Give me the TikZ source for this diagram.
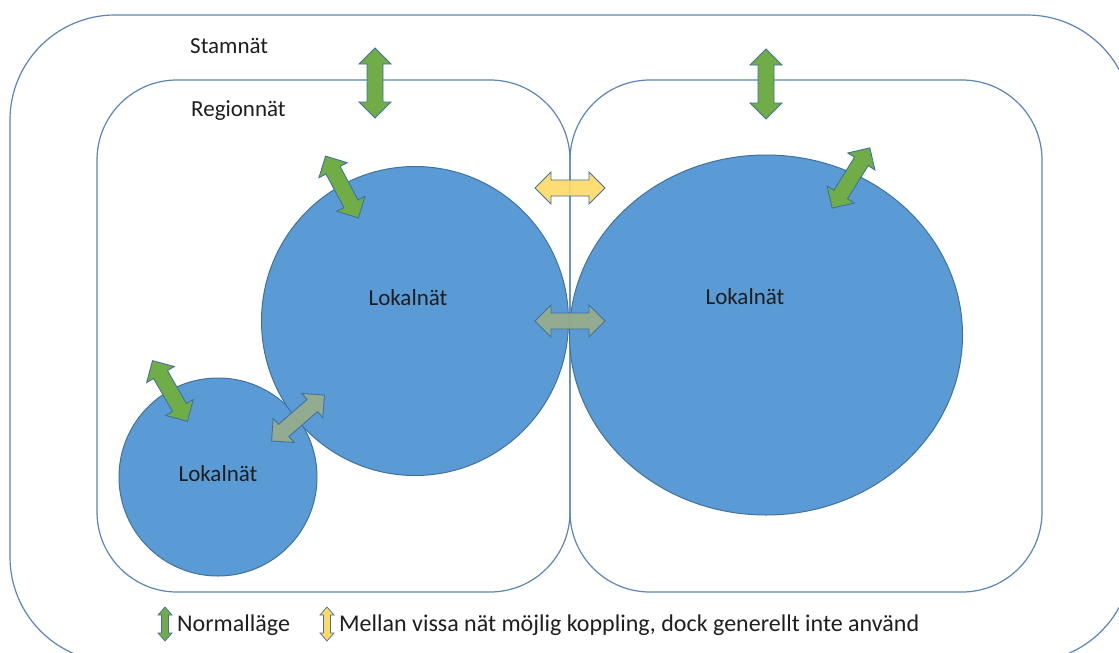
\documentclass[tikz,border=0pt]{standalone}
\usepackage{fontspec}
\setmainfont{Carlito}
\usetikzlibrary{shapes.geometric}
\definecolor{edge}{HTML}{41719C}
\definecolor{rim}{HTML}{5A85B5}
\definecolor{blob}{HTML}{5B9BD5}
\definecolor{grn}{HTML}{70AD47}
\definecolor{ylw}{HTML}{FFD966}
\definecolor{gry}{HTML}{98AD8A}
\definecolor{ink}{HTML}{1E1E1E}
\newcommand\dblarr[8]{% name, x, y, angle, total length, head len, head half width, shaft half width ; fill via style
  \begin{scope}[shift={(#2,#3)},rotate=#4]
    \coordinate (#1) at (0,0);
    \filldraw[arrowsty] (-#5/2*1pt,0pt) -- (-#5/2*1pt+#6*1pt,#7*1pt) -- (-#5/2*1pt+#6*1pt,#8*1pt)
      -- (#5/2*1pt-#6*1pt,#8*1pt) -- (#5/2*1pt-#6*1pt,#7*1pt) -- (#5/2*1pt,0pt)
      -- (#5/2*1pt-#6*1pt,-#7*1pt) -- (#5/2*1pt-#6*1pt,-#8*1pt) -- (-#5/2*1pt+#6*1pt,-#8*1pt)
      -- (-#5/2*1pt+#6*1pt,-#7*1pt) -- cycle;
  \end{scope}}
\tikzset{
  frame/.style={draw=rim, line width=1.2pt},
  blobsty/.style={fill=blob, draw=edge, line width=1pt},
  arrowsty/.style={draw=edge, line width=0.9pt, line join=miter},
  lbl/.style={font=\fontsize{23}{26}\selectfont, text=ink, inner sep=0pt},
  keylbl/.style={font=\fontsize{24}{27}\selectfont, text=ink, inner sep=0pt},
}
\begin{document}
\begin{tikzpicture}[x=1pt,y=-1pt]
\useasboundingbox (0,0) rectangle (1119,653);
\clip (0,0) rectangle (1119,653);
% outer frame (Stamnät)
\draw[frame, rounded corners=105pt] (10,15) rectangle (1132,662);
% region frames
\draw[frame, rounded corners=80pt] (97,80) rectangle (570,592);
\draw[frame, rounded corners=80pt] (570,80) rectangle (1042,592);
% local nets
\node[blobsty, circle, minimum size=198pt, inner sep=0pt] (l1) at (218,477) {};
\node[blobsty, ellipse, minimum width=307pt, minimum height=309pt, inner sep=0pt] (l2) at (415,321) {};
\node[blobsty, ellipse, minimum width=393pt, minimum height=360pt, inner sep=0pt] (l3) at (766,335) {};
% labels
\node[lbl, anchor=west] (stam) at (190,46) {Stamnät};
\node[lbl, anchor=west] (reg) at (191,111) {Regionnät};
\node[lbl] (t1) at (218,474) {Lokalnät};
\node[lbl] (t2) at (408,298) {Lokalnät};
\node[lbl] (t3) at (745,297) {Lokalnät};
% arrows
\begin{scope}[arrowsty/.append style={fill=grn}]
\dblarr{a1}{375}{83}{90}{70}{16}{16}{8}
\dblarr{a2}{766}{84}{90}{70}{16}{16}{8}
\dblarr{a3}{342}{187}{-62}{70}{16}{16}{8}
\dblarr{a4}{170}{391}{-60}{70}{16}{16}{8}
\dblarr{a5}{851}{178}{58}{71}{16}{16}{8}
\end{scope}
\begin{scope}[arrowsty/.append style={fill=gry, fill opacity=0.9}]
\dblarr{a6}{298}{418}{41}{70}{16}{16}{8}
\dblarr{a7}{570}{321}{0}{70}{16}{16}{8}
\end{scope}
\begin{scope}[arrowsty/.append style={fill=ylw, fill opacity=0.9}]
\dblarr{a8}{570}{188}{0}{70}{16}{16}{8}
\end{scope}
% legend
\begin{scope}[arrowsty/.append style={fill=grn, line width=0.7pt}]
\dblarr{k1}{165}{624}{90}{34}{8}{7}{3.5}
\end{scope}
\begin{scope}[arrowsty/.append style={fill=ylw, line width=0.7pt}]
\dblarr{k2}{327}{624}{90}{34}{8}{7}{3.5}
\end{scope}
\node[keylbl, anchor=west] (n1) at (177,625) {Normalläge};
\node[keylbl, anchor=west] (n2) at (339,625) {Mellan vissa nät möjlig koppling, dock generellt inte använd};
\end{tikzpicture}
\end{document}
